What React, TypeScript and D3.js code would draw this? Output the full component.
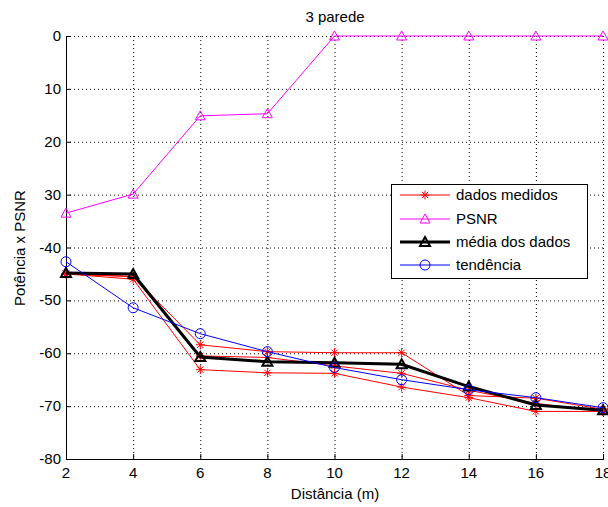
import React from "react";
import * as d3 from "d3";

const distances = [2, 4, 6, 8, 10, 12, 14, 16, 18];
const dadosA = [-45, -45.5, -58.4, -59.7, -59.9, -59.9, -68.0, -68.5, -70.6];
const dadosB = [-45, -46.0, -63.1, -63.7, -63.8, -66.4, -68.4, -71.0, -71.0];
const dadosC = [-45, -45.5, -60.5, -60.8, -62.4, -63.8, -67.0, -69.5, -71.0];
const psnr = [-33.5, -29.9, -15.1, -14.7, 0, 0, 0, 0, 0];
const media = [-44.8, -45.0, -60.7, -61.6, -61.8, -62.1, -66.3, -69.8, -70.8];
const tendencia = [-42.7, -51.4, -56.3, -59.7, -62.7, -65.0, -66.9, -68.4, -70.3];
const yTicks = [0, -10, -20, -30, -40, -50, -60, -70, -80];
const yTickLabels = ["0", "10", "20", "30", "-40", "-50", "-60", "-70", "-80"];
const legendLabels = ["dados medidos", "PSNR", "média dos dados", "tendência"];

const W = 608, H = 507;
const left = 66, right = 603, top = 36, bottom = 459;
const FONT = "'Liberation Sans', Arial, sans-serif";

const x = d3.scaleLinear().domain([2, 18]).range([left, right]);
const y = d3.scaleLinear().domain([-80, 0]).range([bottom, top]);

const lineGen = d3.line<number>().x((_, i) => x(distances[i])).y((v) => y(v));

function Star({ cx, cy, color }: { cx: number; cy: number; color: string }) {
  const r = 4.5;
  const d = r * 0.7;
  return (
    <g stroke={color} strokeWidth={1}>
      <line x1={cx - r} y1={cy} x2={cx + r} y2={cy} />
      <line x1={cx} y1={cy - r} x2={cx} y2={cy + r} />
      <line x1={cx - d} y1={cy - d} x2={cx + d} y2={cy + d} />
      <line x1={cx - d} y1={cy + d} x2={cx + d} y2={cy - d} />
    </g>
  );
}

function Tri({ cx, cy, color, sw }: { cx: number; cy: number; color: string; sw: number }) {
  const s = 5;
  return (
    <path
      d={`M${cx},${cy - s} L${cx + s},${cy + s * 0.8} L${cx - s},${cy + s * 0.8} Z`}
      fill="none"
      stroke={color}
      strokeWidth={sw}
    />
  );
}

function Circ({ cx, cy, color }: { cx: number; cy: number; color: string }) {
  return <circle cx={cx} cy={cy} r={5} fill="none" stroke={color} strokeWidth={1} />;
}

export default function App() {
  const redSeries = [dadosA, dadosB, dadosC];
  const legX = 391, legY = 184, legW = 196, legH = 94;
  const rowY = [195, 219, 242, 265];
  return (
    <svg width={W} height={H} style={{ position: "absolute", left: 0, top: 0, background: "#fff" }}>
      <rect x={0} y={0} width={W} height={H} fill="#fff" />
      {/* grid */}
      <g stroke="#000" strokeWidth={1} strokeDasharray="1,3">
        {distances.slice(1).map((d) => (
          <line key={"gx" + d} x1={x(d) + 0.5} x2={x(d) + 0.5} y1={top} y2={bottom} />
        ))}
        {yTicks.slice(0, -1).map((t) => (
          <line key={"gy" + t} x1={left} x2={right} y1={y(t) + 0.5} y2={y(t) + 0.5} />
        ))}
      </g>
      {/* axes */}
      <g stroke="#000" strokeWidth={1}>
        <line x1={left + 0.5} x2={left + 0.5} y1={top} y2={bottom + 0.5} />
        <line x1={left} x2={right + 1} y1={bottom + 0.5} y2={bottom + 0.5} />
        {distances.map((d) => (
          <line key={"tx" + d} x1={x(d) + 0.5} x2={x(d) + 0.5} y1={bottom} y2={bottom - 5} />
        ))}
        {yTicks.map((t) => (
          <line key={"ty" + t} x1={left} x2={left + 5} y1={y(t) + 0.5} y2={y(t) + 0.5} />
        ))}
      </g>
      {/* tick labels */}
      <g fontFamily={FONT} fontSize={15} fill="#000">
        {distances.map((d) => (
          <text key={"lx" + d} x={x(d)} y={478} textAnchor="middle">
            {d}
          </text>
        ))}
        {yTicks.map((t, i) => (
          <text key={"ly" + t} x={61} y={y(t) + 5} textAnchor="end">
            {yTickLabels[i]}
          </text>
        ))}
        <text x={335} y={22} textAnchor="middle">3 parede</text>
        <text x={335} y={499} textAnchor="middle">Distância (m)</text>
        <text transform="translate(25,248) rotate(-90)" textAnchor="middle">Potência x PSNR</text>
      </g>
      {/* series */}
      {redSeries.map((s, k) => (
        <g key={"red" + k}>
          <path d={lineGen(s) || ""} fill="none" stroke="#ff0000" strokeWidth={1} />
          {s.map((v, i) => (
            <Star key={i} cx={x(distances[i])} cy={y(v)} color="#ff0000" />
          ))}
        </g>
      ))}
      <g>
        <path d={lineGen(psnr) || ""} fill="none" stroke="#ff00ff" strokeWidth={1} />
        {psnr.map((v, i) => (
          <Tri key={i} cx={x(distances[i])} cy={y(v)} color="#ff00ff" sw={1} />
        ))}
      </g>
      <g>
        <path d={lineGen(media) || ""} fill="none" stroke="#000" strokeWidth={3} />
        {media.map((v, i) => (
          <Tri key={i} cx={x(distances[i])} cy={y(v)} color="#000" sw={2} />
        ))}
      </g>
      <g>
        <path d={lineGen(tendencia) || ""} fill="none" stroke="#0000ff" strokeWidth={1} />
        {tendencia.map((v, i) => (
          <Circ key={i} cx={x(distances[i])} cy={y(v)} color="#0000ff" />
        ))}
      </g>
      {/* legend */}
      <rect x={legX + 0.5} y={legY + 0.5} width={legW} height={legH} fill="#fff" stroke="#000" strokeWidth={1} />
      <g fontFamily={FONT} fontSize={15} fill="#000">
        {legendLabels.map((lab, i) => (
          <text key={lab} x={456} y={rowY[i] + 5}>
            {lab}
          </text>
        ))}
      </g>
      <line x1={400} x2={450} y1={rowY[0]} y2={rowY[0]} stroke="#ff0000" strokeWidth={1} />
      <Star cx={425} cy={rowY[0]} color="#ff0000" />
      <line x1={400} x2={450} y1={rowY[1]} y2={rowY[1]} stroke="#ff00ff" strokeWidth={1} />
      <Tri cx={425} cy={rowY[1]} color="#ff00ff" sw={1} />
      <line x1={400} x2={450} y1={rowY[2]} y2={rowY[2]} stroke="#000" strokeWidth={3} />
      <Tri cx={425} cy={rowY[2]} color="#000" sw={2} />
      <line x1={400} x2={450} y1={rowY[3]} y2={rowY[3]} stroke="#0000ff" strokeWidth={1} />
      <Circ cx={425} cy={rowY[3]} color="#0000ff" />
    </svg>
  );
}
